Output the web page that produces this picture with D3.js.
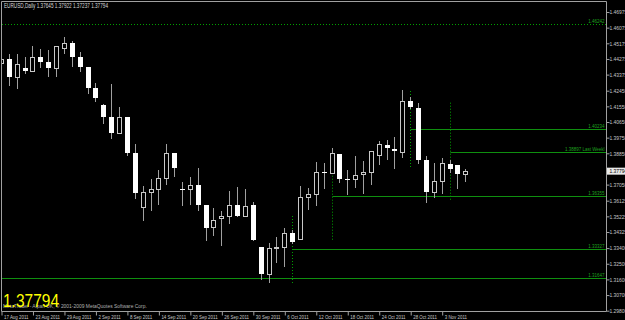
<!DOCTYPE html>
<html>
<head>
<meta charset="utf-8">
<script src="https://cdn.jsdelivr.net/npm/d3@7"></script>
<style>
  body { margin: 0; background: #000; overflow: hidden; }
  svg { display: block; }
  text { font-family: "Liberation Sans", Arial, sans-serif; }
</style>
</head>
<body>
<script>
// Daily bars, EURUSD
var dates = ["17 Aug 2011","18 Aug 2011","19 Aug 2011","22 Aug 2011","23 Aug 2011","24 Aug 2011","25 Aug 2011","26 Aug 2011",
  "29 Aug 2011","30 Aug 2011","31 Aug 2011","1 Sep 2011","2 Sep 2011","5 Sep 2011","6 Sep 2011","7 Sep 2011","8 Sep 2011",
  "9 Sep 2011","12 Sep 2011","13 Sep 2011","14 Sep 2011","15 Sep 2011","16 Sep 2011","19 Sep 2011","20 Sep 2011","21 Sep 2011",
  "22 Sep 2011","23 Sep 2011","26 Sep 2011","27 Sep 2011","28 Sep 2011","29 Sep 2011","30 Sep 2011","3 Oct 2011","4 Oct 2011",
  "5 Oct 2011","6 Oct 2011","7 Oct 2011","10 Oct 2011","11 Oct 2011","12 Oct 2011","13 Oct 2011","14 Oct 2011","17 Oct 2011",
  "18 Oct 2011","19 Oct 2011","20 Oct 2011","21 Oct 2011","24 Oct 2011","25 Oct 2011","26 Oct 2011","27 Oct 2011","28 Oct 2011",
  "31 Oct 2011","1 Nov 2011","2 Nov 2011","3 Nov 2011","4 Nov 2011","7 Nov 2011","8 Nov 2011"];

var opens = [1.4400,1.4423,1.4323,1.4375,1.4354,1.4434,1.4410,1.4371,1.4490,1.4515,1.4438,1.4379,1.4260,1.4160,1.4093,
  1.4001,1.4093,1.3882,1.3575,1.3658,1.3676,1.3739,1.3882,1.3676,1.3676,1.3700,1.3585,1.3457,1.3509,1.3524,
  1.3585,1.3524,1.3583,1.3342,1.3188,1.3336,1.3345,1.3423,1.3388,1.3630,1.3647,1.3773,1.3768,1.3877,1.3735,
  1.3733,1.3762,1.3777,1.3873,1.3930,1.3907,1.3892,1.4183,1.4144,1.3844,1.3658,1.3725,1.3821,1.3815,1.37645];
var highs = [1.4442,1.4453,1.4453,1.4434,1.4499,1.4482,1.4476,1.4499,1.4549,1.4530,1.4467,1.4379,1.4285,1.4166,1.4281,
  1.4147,1.4093,1.3936,1.3694,1.3734,1.3786,1.3934,1.3882,1.3719,1.3744,1.3798,1.3585,1.3566,1.3552,1.3667,
  1.3687,1.3677,1.3604,1.3342,1.3365,1.3399,1.3451,1.3441,1.3696,1.3681,1.3831,1.3825,1.3911,1.3877,1.3786,
  1.3867,1.3840,1.3896,1.3955,1.3959,1.3974,1.4246,1.4206,1.4170,1.3867,1.3825,1.3853,1.3843,1.3815,1.37922];
var lows = [1.4384,1.4275,1.4256,1.4342,1.4354,1.4380,1.4328,1.4328,1.4461,1.4384,1.4357,1.4227,1.4183,1.4058,1.3972,
  1.4001,1.3872,1.3624,1.3499,1.3556,1.3589,1.3706,1.3754,1.3585,1.3591,1.3556,1.3384,1.3413,1.3355,1.3479,
  1.3524,1.3524,1.3384,1.3160,1.3144,1.3256,1.3236,1.3367,1.3388,1.3562,1.3585,1.3685,1.3768,1.3719,1.3648,
  1.3690,1.3656,1.3704,1.3821,1.3848,1.3796,1.3863,1.4145,1.3828,1.3604,1.3633,1.3652,1.3775,1.3681,1.37237];
var closes = [1.4423,1.4323,1.4394,1.4356,1.4434,1.4406,1.4373,1.4499,1.4515,1.4438,1.4377,1.4256,1.4202,1.4093,1.4001,
  1.4093,1.3882,1.3652,1.3658,1.3676,1.3739,1.3882,1.3800,1.3674,1.3700,1.3585,1.3451,1.3499,1.3524,1.3585,
  1.3524,1.3581,1.3384,1.3188,1.3336,1.3345,1.3423,1.3374,1.3633,1.3647,1.3777,1.3769,1.3882,1.3733,1.3733,
  1.3758,1.3777,1.3896,1.3934,1.3911,1.3896,1.4183,1.4147,1.3844,1.3658,1.3725,1.3825,1.3790,1.3763,1.37794];

// price scale labels on the right (1.37950 sits under the last price box)
var priceTicks = [1.46975,1.46075,1.45175,1.44275,1.43375,1.42450,1.41550,1.40650,1.39750,1.38850,
  1.37050,1.36125,1.35225,1.34325,1.33400,1.32500,1.31600,1.30700,1.29800];

// horizontal levels (start bar, or null for full width)
var levelValues = [1.46242, 1.40234, 1.38897, 1.36355, 1.33327, 1.31647];
var levelLabels = ["1.46242", "1.40234", "1.38897 Last Weekl", "1.36355", "1.33327", "1.31647"];
var levelStart = [null, "28 Oct 2011", "4 Nov 2011", "14 Oct 2011", "7 Oct 2011", null];

// weekly dotted markers
var markerDates = ["7 Oct 2011", "14 Oct 2011", "28 Oct 2011", "4 Nov 2011"];
var markerHighs = [1.35216, 1.38914, 1.42404, 1.41731];
var markerLows = [1.31364, 1.33739, 1.37959, 1.36039];

var symbol = "EURUSD,Daily";
var lastPrice = 1.37794;

var svgWidth = 625, svgHeight = 320;
var plotRight = 606.5, plotBottom = 311.5;

var svg = d3.select("body").append("svg")
    .attr("width", svgWidth)
    .attr("height", svgHeight);

svg.append("rect").attr("width", svgWidth).attr("height", svgHeight).attr("fill", "#000");

var x = d3.scalePoint().domain(dates).range([1, 465.3]);
var y = d3.scaleLinear().domain([1.29800, 1.46975]).range([310.2, 11.5]);

svg.append("clipPath").attr("id", "plotclip")
  .append("rect").attr("x", 2).attr("y", 2).attr("width", plotRight - 2.5).attr("height", plotBottom - 2.5);

var plot = svg.append("g").attr("clip-path", "url(#plotclip)");

var bars = dates.map(function (d, i) {
  return {date: d, o: opens[i], h: highs[i], l: lows[i], c: closes[i]};
});

function cx(d) { return Math.round(x(d)); }

// squeeze the small MT4 style texts horizontally
function narrow(sel, k) {
  sel.each(function () {
    var w = this.getComputedTextLength();
    d3.select(this).attr("textLength", w * k).attr("lengthAdjust", "spacingAndGlyphs");
  });
}

// levels
levelValues.forEach(function (v, i) {
  var x0 = levelStart[i] ? cx(levelStart[i]) + 0.5 : 2;
  var yy = Math.round(y(v)) + 0.5;
  plot.append("line")
      .attr("x1", x0).attr("x2", plotRight)
      .attr("y1", yy).attr("y2", yy)
      .attr("stroke", i === 0 ? "#00a000" : "#0f8f0f")
      .attr("stroke-dasharray", i === 0 ? "1,2" : null);
  svg.append("text")
      .attr("class", "lvl")
      .attr("x", 604.5).attr("y", yy - 1.5)
      .attr("text-anchor", "end")
      .attr("font-size", "5.6px")
      .attr("fill", "#1fa01f")
      .text(levelLabels[i]);
});
narrow(svg.selectAll(".lvl"), 0.8);

// weekly markers
markerDates.forEach(function (d, i) {
  plot.append("line")
      .attr("x1", cx(d) + 0.5).attr("x2", cx(d) + 0.5)
      .attr("y1", y(markerHighs[i])).attr("y2", y(markerLows[i]))
      .attr("stroke", "#00a000")
      .attr("stroke-dasharray", "1,2");
});

// wicks
plot.selectAll(".wick").data(bars).enter().append("line")
    .attr("class", "wick")
    .attr("x1", d => cx(d.date) + 0.5).attr("x2", d => cx(d.date) + 0.5)
    .attr("y1", d => Math.round(y(d.h))).attr("y2", d => Math.round(y(d.l)) + 1)
    .attr("stroke", "#a0a0a0");

// bodies
plot.selectAll(".body").data(bars).enter().append("rect")
    .attr("class", "body")
    .attr("x", d => d.c > d.o ? cx(d.date) - 1.5 : cx(d.date) - 2)
    .attr("y", d => d.c > d.o ? Math.round(y(d.c)) + 0.5 : Math.round(y(d.o)))
    .attr("width", d => d.c > d.o ? 4 : 5)
    .attr("height", d => d.c > d.o
        ? Math.max(Math.round(y(d.o)) - Math.round(y(d.c)), 1)
        : Math.max(Math.round(y(d.c)) - Math.round(y(d.o)), 1))
    .attr("fill", d => d.c > d.o ? "#000" : "#fff")
    .attr("stroke", d => d.c > d.o ? "#c8c8c8" : "none");

// frame
svg.append("path")
    .attr("d", "M1.5,311.5V1.5H" + plotRight + "V" + plotBottom + "H1.5")
    .attr("fill", "none")
    .attr("stroke", "#a0a0a0");

// right price axis
var rightAxis = d3.axisRight(y)
    .tickValues(priceTicks)
    .tickSize(3)
    .tickSizeOuter(0)
    .tickFormat(d3.format(".5f"));

var ra = svg.append("g")
    .attr("transform", "translate(" + plotRight + ",0.5)")
    .call(rightAxis);
ra.select(".domain").remove();
ra.selectAll("line").attr("stroke", "#a0a0a0");
ra.selectAll("text")
    .attr("x", 3)
    .attr("font-size", "5.8px")
    .attr("fill", "#c8c8c8")
    .attr("font-family", null);
narrow(ra.selectAll("text"), 0.85);

// bottom date axis
var bottomAxis = d3.axisBottom(x)
    .tickValues(dates.filter((d, i) => i % 4 === 0))
    .tickSize(4)
    .tickSizeOuter(0);

var ba = svg.append("g")
    .attr("transform", "translate(0.5," + plotBottom + ")")
    .call(bottomAxis);
ba.select(".domain").remove();
ba.selectAll("line").attr("stroke", "#a0a0a0");
ba.selectAll("text")
    .attr("x", 2)
    .attr("y", 3.2)
    .attr("dy", "0.71em")
    .attr("text-anchor", "start")
    .attr("font-size", "5.6px")
    .attr("fill", "#c8c8c8")
    .attr("font-family", null);
narrow(ba.selectAll("text"), 0.79);

// last price box
var ly = y(lastPrice);
svg.append("rect")
    .attr("x", 607).attr("y", ly - 3.5)
    .attr("width", 18).attr("height", 7)
    .attr("fill", "#e8e8e8");
var lp = svg.append("text")
    .attr("x", 609.5).attr("y", ly + 2)
    .attr("font-size", "5.8px")
    .attr("fill", "#000")
    .text(d3.format(".5f")(lastPrice));
narrow(lp, 0.85);

// header
var hd = svg.append("text")
    .attr("x", 4).attr("y", 8)
    .attr("font-size", "6.4px")
    .attr("fill", "#d8d8d8")
    .text(symbol + " " + [opens[59], highs[59], lows[59], closes[59]].map(d3.format(".5f")).join(" "));
narrow(hd, 0.73);

// footer
var ft = svg.append("text")
    .attr("x", 3).attr("y", 307.5)
    .attr("font-size", "5.6px")
    .attr("fill", "#b0b0b0")
    .text("MetaTrader - Alpari UK, \u00a9 2001-2009 MetaQuotes Software Corp.");
narrow(ft, 0.88);

svg.append("text")
    .attr("x", 3).attr("y", 307)
    .attr("font-size", "19px")
    .attr("fill", "#ffff00")
    .attr("textLength", 56)
    .attr("lengthAdjust", "spacingAndGlyphs")
    .text(d3.format(".5f")(lastPrice));
</script>
</body>
</html>
